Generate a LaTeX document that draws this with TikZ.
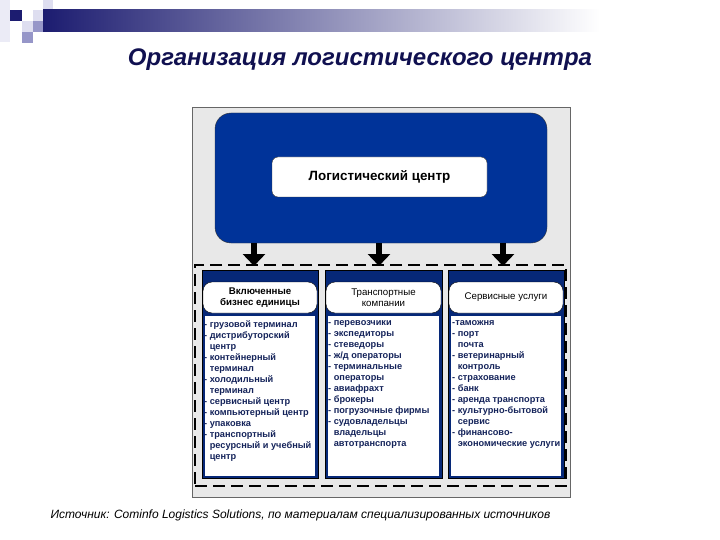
\documentclass[tikz,border=0pt]{standalone}
\usepackage{fontspec}
\setmainfont{Liberation Sans}
\usetikzlibrary{arrows.meta}

\definecolor{barnavy}{RGB}{28,28,112}
\definecolor{sqlight}{RGB}{222,222,240}
\definecolor{sqmid}{RGB}{150,150,200}
\definecolor{titlenavy}{RGB}{16,16,80}
\definecolor{framegray}{RGB}{232,232,232}
\definecolor{lcblue}{RGB}{0,51,153}
\definecolor{colblue}{RGB}{6,40,120}
\definecolor{itemtext}{RGB}{20,35,90}

\begin{document}
\begin{tikzpicture}[x=1pt,y=-1pt,
    bluebox/.style={draw=black!80,fill=lcblue,rounded corners=16pt,minimum width=332pt,minimum height=130pt,inner sep=0pt},
    centerbox/.style={draw=black!80,fill=white,rounded corners=6pt,minimum width=215pt,minimum height=40pt,inner sep=0pt,font=\fontsize{13.4}{15}\selectfont\bfseries},
    groupbox/.style={draw=black,line width=1.1pt,dash pattern=on 12pt off 6pt,minimum width=371pt,minimum height=221pt,inner sep=0pt},
    colbox/.style={draw=black,fill=colblue,minimum height=208pt,inner sep=0pt},
    headbox/.style={draw=black,fill=white,rounded corners=9pt,minimum height=31pt,inner sep=0pt,align=center,font=\fontsize{9.7}{11}\selectfont},
    listbox/.style={fill=white,minimum height=160pt,inner sep=0pt},
    itemlist/.style={anchor=north west,align=left,inner sep=0pt,text=itemtext,font=\fontsize{9.2}{11}\selectfont\bfseries},
    fatarrow/.style={line width=6pt,-{Triangle[width=22pt,length=12pt]}}]
        \useasboundingbox (0,0) rectangle (720,540);

        % corner squares and bar
        \fill[sqlight!60] (0,0) rectangle (10,42);
        \fill[barnavy] (10,10) rectangle (22,21);
        \fill[sqlight] (33,10) rectangle (43,21);
        \fill[sqlight] (22,21) rectangle (33,32);
        \fill[sqmid] (33,21) rectangle (43,32);
        \fill[sqmid] (22,32) rectangle (33,43);
        \fill[sqlight] (43,0) rectangle (53,10);
        \shade[left color=barnavy,right color=white] (43,10) rectangle (600,32);

        \node[text=titlenavy,font=\fontsize{24}{28}\selectfont\bfseries\itshape] (title) at (360,60) {Организация логистического центра};

        % frame
        \fill[framegray] (192,107) rectangle (570,497);
        \draw[black!60,line width=0.6pt] (192,107) rectangle (570,497);

        \node[bluebox] (top) at (381,178) {};
        \node[centerbox] (lc) at (379.5,177) {Логистический центр};

        \node[groupbox] (grp) at (380.5,375.5) {};

        \coordinate (tip1) at (254,266);
        \coordinate (tip2) at (379,266);
        \coordinate (tip3) at (503,266);
        \draw[fatarrow] (top.south -| tip1) -- (tip1);
        \draw[fatarrow] (top.south -| tip2) -- (tip2);
        \draw[fatarrow] (top.south -| tip3) -- (tip3);

        % columns
        \node[colbox,minimum width=116pt] (col1) at (260,374) {};
        \node[colbox,minimum width=117pt] (col2) at (383.5,374) {};
        \node[colbox,minimum width=116pt] (col3) at (506,374) {};

        \node[headbox,minimum width=114pt,font=\fontsize{9.7}{11}\selectfont\bfseries] (head1) at (260,297.5) {Включенные\\бизнес единицы};
        \node[headbox,minimum width=115pt] (head2) at (383.5,297.5) {Транспортные\\компании};
        \node[headbox,minimum width=114pt] (head3) at (506,297.5) {Сервисные услуги};

        \node[listbox,minimum width=110pt] (box1) at (260,396) {};
        \node[listbox,minimum width=111pt] (box2) at (383.5,396) {};
        \node[listbox,minimum width=110pt] (box3) at (506,396) {};

        \node[itemlist] (list1) at (204,320.5) {- грузовой терминал\\- дистрибуторский\\\hphantom{- }центр\\- контейнерный\\\hphantom{- }терминал\\- холодильный\\\hphantom{- }терминал\\- сервисный центр\\- компьютерный центр\\- упаковка\\- транспортный\\\hphantom{- }ресурсный и учебный\\\hphantom{- }центр};
        \node[itemlist] (list2) at (328,320.5) {- перевозчики\\- экспедиторы\\- стеведоры\\- ж/д операторы\\- терминальные\\\hphantom{- }операторы\\- авиафрахт\\- брокеры\\- погрузочные фирмы\\- судовладельцы\\\hphantom{- }владельцы\\\hphantom{- }автотранспорта};
        \node[itemlist] (list3) at (452,320.5) {-таможня\\- порт\\\hphantom{- }почта\\- ветеринарный\\\hphantom{- }контроль\\- страхование\\- банк\\- аренда транспорта\\- культурно-бытовой\\\hphantom{- }сервис\\- финансово-\\\hphantom{- }экономические услуги};

        \node[anchor=west,font=\fontsize{12}{14}\selectfont\itshape] (src) at (47,515) {Источник: Cominfo Logistics Solutions, по материалам специализированных источников};
\end{tikzpicture}
\end{document}
